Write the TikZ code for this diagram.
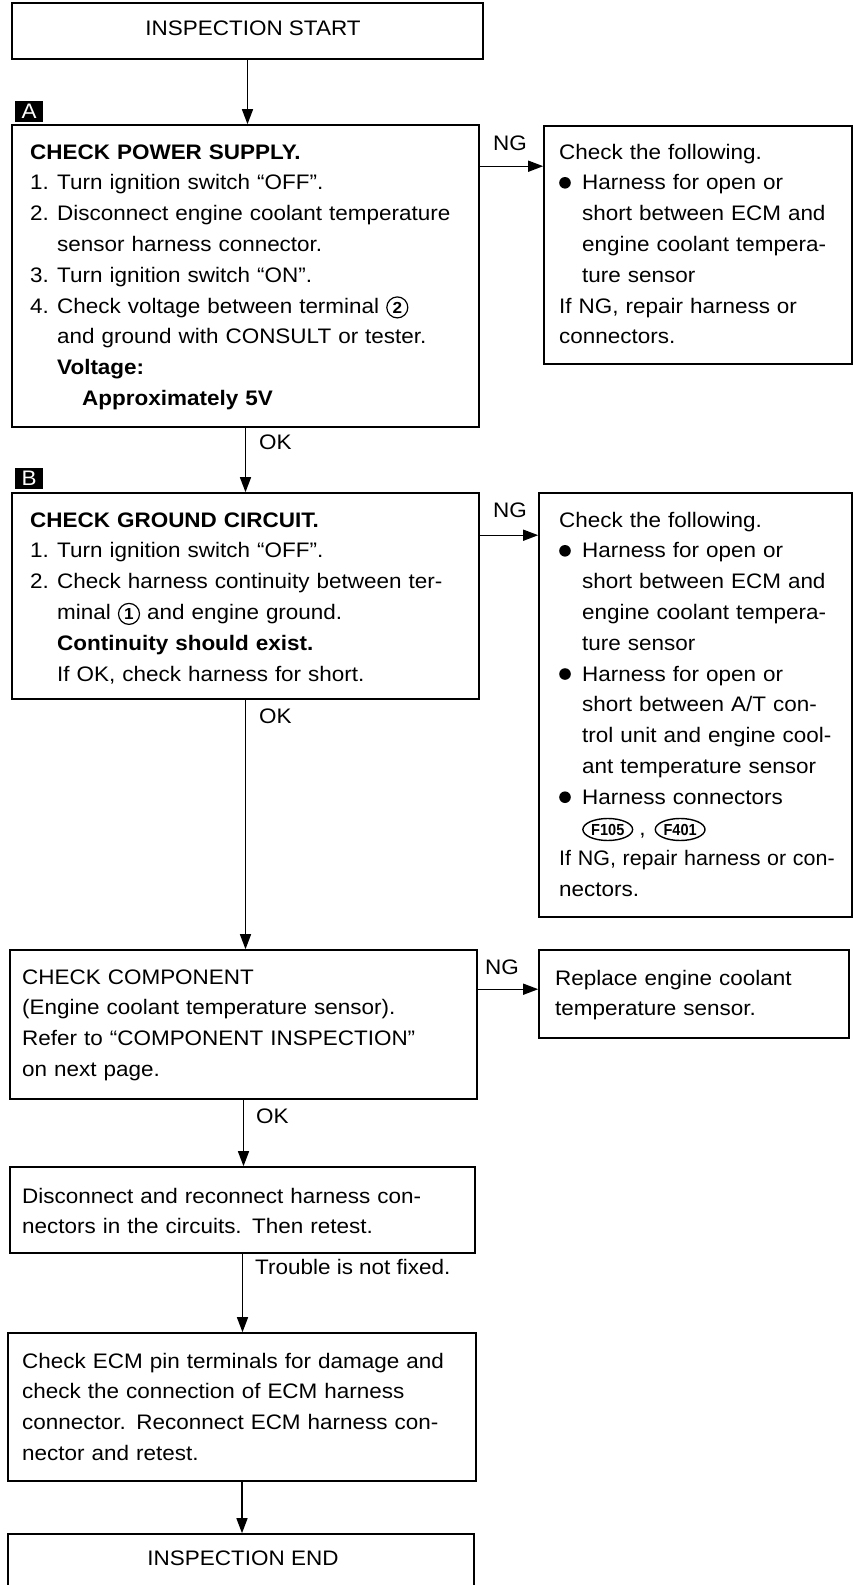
\documentclass[tikz,border=0pt]{standalone}
\usepackage{fontspec}
\setmainfont{Liberation Sans}[FakeStretch=1.07]
\usetikzlibrary{arrows.meta,shapes.geometric}

% step numbers and hanging indents
\newcommand{\stp}[1]{\makebox[27pt][l]{#1}}
\newcommand{\hang}{\hspace*{27pt}}
\newcommand{\bhang}{\hspace*{23pt}}
\newcommand{\blt}{\makebox[23pt][l]{\tikz[baseline=0pt]\fill (5.8pt,7pt) circle (5.8pt);}}
% circled terminal number and connector oval
\newcommand{\circnum}[1]{\tikz[baseline=(cn.base)]\node[circle,draw,line width=1.2pt,inner sep=0pt,minimum size=21pt,text width={},align=center,anchor=center,font=\bfseries\fontsize{16}{16}\selectfont] (cn) {#1};}
\newcommand{\connoval}[1]{\tikz[baseline=(co.base)]\node[ellipse,draw,line width=1.4pt,inner xsep=1pt,inner ysep=0pt,minimum height=22pt,text width={},align=center,anchor=center,font=\bfseries\fontsize{16}{16}\selectfont] (co) {\scalebox{0.85}[1]{#1}};}

\begin{document}
\begin{tikzpicture}[x=1pt,y=-1pt,
  box/.style={draw,line width=1.6pt,inner sep=0pt},
  txt/.style={anchor=base west,inner sep=0pt,text width=#1,align=left,
    font=\fontsize{21}{30.8}\selectfont},
  txt/.default=310pt,
  lbl/.style={anchor=base west,inner sep=0pt,font=\fontsize{21}{21}\selectfont},
  letbox/.style={fill=black,text=white,inner sep=0pt,minimum width=28pt,
    minimum height=21pt,font=\fontsize{21}{21}\selectfont},
  flow/.style={line width=1.4pt,-{Triangle[length=15pt,width=11pt]}}]
\useasboundingbox (0,0) rectangle (854,1585);

% boxes
\node[box,minimum width=471pt,minimum height=56pt] (start) at (247.5,31) {};
\node[box,minimum width=467pt,minimum height=302pt] (chkA) at (245.5,276) {};
\node[box,minimum width=308pt,minimum height=238pt] (repA) at (698,245) {};
\node[box,minimum width=467pt,minimum height=206pt] (chkB) at (245.5,596) {};
\node[box,minimum width=313pt,minimum height=424pt] (repB) at (695.5,705) {};
\node[box,minimum width=467pt,minimum height=149pt] (chkC) at (243.5,1024.5) {};
\node[box,minimum width=310pt,minimum height=88pt] (repC) at (694,994) {};
\node[box,minimum width=465pt,minimum height=86pt] (chkD) at (242.5,1210) {};
\node[box,minimum width=468pt,minimum height=148pt] (chkE) at (242,1407) {};
\node[box,minimum width=466pt,minimum height=56pt] (endbox) at (241,1562) {};

% step markers
\node[letbox] (markA) at (29,111) {A};
\node[letbox] (markB) at (29,478) {B};

% texts
\node[lbl,anchor=base] (startlbl) at (253,35) {INSPECTION START};
\node[txt=460pt] (txtA) at (30,159) {\textbf{CHECK POWER SUPPLY.}\\
\stp{1.}Turn ignition switch “OFF”.\\
\stp{2.}Disconnect engine coolant temperature\\
\hang sensor harness connector.\\
\stp{3.}Turn ignition switch “ON”.\\
\stp{4.}Check voltage between terminal \circnum{2}\\
\hang and ground with CONSULT or tester.\\
\hang\textbf{Voltage:}\\
\hang\hspace*{25pt}\textbf{Approximately 5V}};
\node[txt] (txtRA) at (559,159) {Check the following.\\
\blt Harness for open or\\
\bhang short between ECM and\\
\bhang engine coolant tempera-\\
\bhang ture sensor\\
If NG, repair harness or\\
connectors.};
\node[txt=460pt] (txtB) at (30,527) {\textbf{CHECK GROUND CIRCUIT.}\\
\stp{1.}Turn ignition switch “OFF”.\\
\stp{2.}Check harness continuity between ter-\\
\hang minal \circnum{1} and engine ground.\\
\hang\textbf{Continuity should exist.}\\
\hang If OK, check harness for short.};
\node[txt] (txtRB) at (559,527) {Check the following.\\
\blt Harness for open or\\
\bhang short between ECM and\\
\bhang engine coolant tempera-\\
\bhang ture sensor\\
\blt Harness for open or\\
\bhang short between A/T con-\\
\bhang trol unit and engine cool-\\
\bhang ant temperature sensor\\
\blt Harness connectors\\
\bhang\connoval{F105}\hspace{6pt},\hspace{9pt}\connoval{F401}\\
\scalebox{0.955}[1]{If NG, repair harness or con-}\\
nectors.};
\node[txt=460pt] (txtC) at (22,984) {CHECK COMPONENT\\
(Engine coolant temperature sensor).\\
Refer to “COMPONENT INSPECTION”\\
on next page.};
\node[txt] (txtRC) at (555,985) {Replace engine coolant\\
temperature sensor.};
\node[txt=460pt] (txtD) at (22,1203) {Disconnect and reconnect harness con-\\
nectors in the circuits. Then retest.};
\node[txt=460pt] (txtE) at (22,1368) {Check ECM pin terminals for damage and\\
check the connection of ECM harness\\
connector. Reconnect ECM harness con-\\
nector and retest.};
\node[lbl,anchor=base] (endlbl) at (243,1565) {INSPECTION END};

% branch labels
\node[lbl] (ngAlbl) at (493,150) {NG};
\node[lbl] (okAlbl) at (259,449) {OK};
\node[lbl] (ngBlbl) at (493,517) {NG};
\node[lbl] (okBlbl) at (259,723) {OK};
\node[lbl] (ngClbl) at (485,974) {NG};
\node[lbl] (okClbl) at (256,1123) {OK};
\node[lbl] (notfixed) at (255,1274) {Trouble is not fixed.};

% connectors
\draw[flow] (start.south) -- (start.south |- chkA.north);
\draw[flow] (chkA.south) -- (chkA.south |- chkB.north);
\draw[flow] (chkB.south) -- (chkB.south |- chkC.north);
\draw[flow] (chkC.south) -- (chkC.south |- chkD.north);
\draw[flow] (chkD.south) -- (chkD.south |- chkE.north);
\draw[flow] (chkE.south) -- (chkE.south |- endbox.north);
\draw[flow] ([yshift=-42pt]chkA.north east) -- ([yshift=-42pt]chkA.north east -| repA.west);
\draw[flow] ([yshift=-43pt]chkB.north east) -- ([yshift=-43pt]chkB.north east -| repB.west);
\draw[flow] ([yshift=-40pt]chkC.north east) -- ([yshift=-40pt]chkC.north east -| repC.west);
\end{tikzpicture}
\end{document}
